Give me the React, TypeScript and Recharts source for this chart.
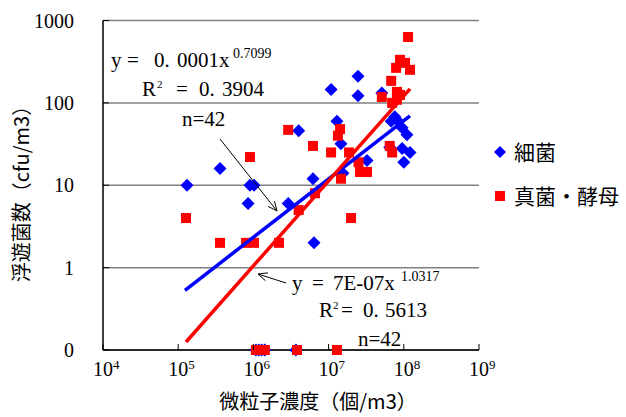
import React from 'react';
import { ScatterChart, Scatter, XAxis, YAxis, CartesianGrid } from 'recharts';

// ---- data ----
// 細菌 (bacteria): particle concentration (個/m3) vs airborne count (cfu/m3)
const bacteriaX = [
  1.31e5, 3.6e5, 8.5e5, 9.0e5, 1.02e6, 2.9e6, 4.0e6, 6.2e6, 6.4e6, 1.08e7,
  1.29e7, 1.46e7, 1.55e7, 2.46e7, 2.46e7, 3.24e7, 5.1e7, 7.6e7, 6.8e7, 8.4e7,
  9.5e7, 1.1e8, 6.5e7, 9.5e7, 1.21e8, 1.0e8,
  1.08e6, 1.18e6, 1.29e6, 1.42e6, 3.68e6,
];
const bacteriaY = [
  10, 16, 6, 10, 10, 6, 46, 12, 2, 145,
  60, 32, 14, 210, 122, 20, 132, 68, 60, 60,
  50, 41, 29, 28, 25, 19,
  0, 0, 0, 0, 0,
];
// 真菌・酵母 (fungi / yeast)
const fungiX = [
  1.27e5, 3.6e5, 8.0e5, 1.02e6, 2.19e6, 9.0e5, 2.9e6, 4.0e6, 6.6e6, 6.2e6,
  1.08e7, 1.42e7, 1.33e7, 1.87e7, 2.5e7, 2.62e7, 3.24e7, 1.46e7, 1.99e7,
  1.14e8, 8.9e7, 7.9e7, 1.04e8, 1.21e8, 6.8e7, 8.1e7, 5.1e7, 7.0e7, 8.1e7, 8.9e7,
  6.5e7, 7.0e7,
  1.08e6, 1.22e6, 1.42e6, 3.8e6, 1.29e7,
];
const fungiY = [
  4, 2, 2, 2, 2, 22, 47, 5, 8, 30,
  25, 48, 40, 25, 19, 14.5, 14.5, 12, 4,
  630, 333, 266, 306, 252, 185, 136, 118, 100, 109, 125,
  30, 25,
  0, 0, 0, 0, 0,
];
// power-law trend line end points (straight on log-log axes)
const bacteriaTrendX = [1.23e5, 1.21e8];
const bacteriaTrendY = [0.53, 69.5];
const fungiTrendX = [1.27e5, 1.21e8];
const fungiTrendY = [0.125, 148];

const xTicks = [1e4, 1e5, 1e6, 1e7, 1e8, 1e9];
const xTickExp = ['4', '5', '6', '7', '8', '9'];
const yTicks = [0.1, 1, 10, 100, 1000];
const yTickLabels = ['0', '1', '10', '100', '1000'];
const ZERO_FLOOR = 0.1; // zero counts are drawn on the "0" line

const seriesNames = ['細菌', '真菌・酵母'];
const BLUE = '#0000FF';
const RED = '#FF0000';
const SERIF = '"Liberation Serif", "DejaVu Serif", serif';
const CJK = '"Noto Sans CJK JP", "Noto Sans", sans-serif';

const zip = (xs: number[], ys: number[]) =>
  xs.map((x, i) => ({ x, y: ys[i] === 0 ? ZERO_FLOOR : ys[i] }));

const bacteria = zip(bacteriaX, bacteriaY);
const fungi = zip(fungiX, fungiY);
const bacteriaTrend = zip(bacteriaTrendX, bacteriaTrendY);
const fungiTrend = zip(fungiTrendX, fungiTrendY);

const Diamond = (p: any) => {
  const { cx, cy } = p;
  if (cx == null || cy == null) return <g />;
  const r = 6.5;
  return (
    <polygon
      points={`${cx},${cy - r} ${cx + r},${cy} ${cx},${cy + r} ${cx - r},${cy}`}
      fill={BLUE}
    />
  );
};
const Square = (p: any) => {
  const { cx, cy } = p;
  if (cx == null || cy == null) return <g />;
  return <rect x={cx - 5} y={cy - 5} width={10} height={10} fill={RED} />;
};
const NoShape = () => <g />;

const XTick = (p: any) => {
  const { x, y, payload } = p;
  const i = xTicks.indexOf(payload.value);
  return (
    <g>
      <line x1={x} x2={x} y1={y} y2={y - 6} stroke="#000" strokeWidth={1} />
      <text x={x} y={y + 26} textAnchor="middle" fontSize={20} fontFamily={SERIF} fill="#000">
        10
      </text>
      <text x={x + 10} y={y + 19} fontSize={13} fontFamily={SERIF} fill="#000">
        {xTickExp[i]}
      </text>
    </g>
  );
};
const YTick = (p: any) => {
  const { x, y, payload } = p;
  const i = yTicks.indexOf(payload.value);
  return (
    <g>
      <line x1={x} x2={x + 6} y1={y} y2={y} stroke="#000" strokeWidth={1} />
      <text x={74} y={y + 7} textAnchor="end" fontSize={20} fontFamily={SERIF} fill="#000">
        {yTickLabels[i]}
      </text>
    </g>
  );
};

function arrowHead(x1: number, y1: number, x2: number, y2: number, len = 10, ang = 0.42) {
  const a = Math.atan2(y2 - y1, x2 - x1);
  return `M${x2 - len * Math.cos(a - ang)},${y2 - len * Math.sin(a - ang)} L${x2},${y2} L${
    x2 - len * Math.cos(a + ang)
  },${y2 - len * Math.sin(a + ang)}`;
}

const Overlay = () => (
  <svg
    width={626}
    height={417}
    style={{ position: 'absolute', left: 0, top: 0, pointerEvents: 'none' }}
  >
    {/* bacteria equation */}
    <text fontFamily={SERIF} fontSize={21} fill="#000" y={67}>
      <tspan x={111}>y</tspan>
      <tspan x={127}>=</tspan>
      <tspan x={154}>0.</tspan>
      <tspan x={177}>0001x</tspan>
    </text>
    <text fontFamily={SERIF} fontSize={14} fill="#000" x={233} y={58}>0.7099</text>
    <text fontFamily={SERIF} fontSize={21} fill="#000" y={96}>
      <tspan x={142}>R</tspan>
      <tspan x={157} fontSize={11} dy={-8}>2</tspan>
      <tspan x={176} dy={8}>=</tspan>
      <tspan x={199}>0.</tspan>
      <tspan x={222}>3904</tspan>
    </text>
    <text fontFamily={SERIF} fontSize={21} fill="#000" x={182} y={126}>n=42</text>
    <line x1={220} y1={139} x2={277} y2={211} stroke="#000" strokeWidth={1} />
    <path d={arrowHead(220, 139, 277, 211)} stroke="#000" strokeWidth={1} fill="none" />

    {/* fungi equation */}
    <text fontFamily={SERIF} fontSize={21} fill="#000" y={290}>
      <tspan x={292}>y</tspan>
      <tspan x={312}>=</tspan>
      <tspan x={333}>7E-07x</tspan>
    </text>
    <text fontFamily={SERIF} fontSize={14} fill="#000" x={401} y={281}>1.0317</text>
    <text fontFamily={SERIF} fontSize={21} fill="#000" y={317}>
      <tspan x={319}>R</tspan>
      <tspan x={333} fontSize={11} dy={-8}>2</tspan>
      <tspan x={341} dy={8}>=</tspan>
      <tspan x={363}>0.</tspan>
      <tspan x={385}>5613</tspan>
    </text>
    <text fontFamily={SERIF} fontSize={21} fill="#000" x={358} y={346}>n=42</text>
    <line x1={286} y1={283} x2={258} y2={274} stroke="#000" strokeWidth={1} />
    <path d={arrowHead(286, 283, 258, 274)} stroke="#000" strokeWidth={1} fill="none" />

    {/* legend */}
    <polygon points="500,146 506,152 500,158 494,152" fill={BLUE} />
    <text x={514} y={160} fontFamily={CJK} fontSize={21} fill="#000">{seriesNames[0]}</text>
    <rect x={495} y={191} width={10} height={10} fill={RED} />
    <text x={514} y={204} fontFamily={CJK} fontSize={21} fill="#000">{seriesNames[1]}</text>

    {/* axis titles */}
    <text
      x={0}
      y={0}
      transform="translate(20,189) rotate(-90)"
      textAnchor="middle"
      dominantBaseline="central"
      fontFamily={CJK}
      fontSize={20}
      fill="#000"
    >
      浮遊菌数（cfu/m3）
    </text>
    <text x={318} y={409} textAnchor="middle" fontFamily={CJK} fontSize={20} fill="#000">
      微粒子濃度（個/m3）
    </text>
  </svg>
);

export default function App() {
  return (
    <div
      style={{
        position: 'absolute',
        left: 0,
        top: 0,
        width: 626,
        height: 417,
        background: '#fff',
        fontFamily: SERIF,
      }}
    >
      <ScatterChart
        width={626}
        height={417}
        margin={{ top: 20.5, right: 147, bottom: 37, left: 0 }}
      >
        <CartesianGrid vertical={false} stroke="#808080" strokeWidth={1.5} />
        <XAxis
          type="number"
          dataKey="x"
          scale="log"
          domain={[1e4, 1e9]}
          ticks={xTicks}
          height={30}
          tickSize={0}
          tickMargin={0}
          tickLine={false}
          axisLine={{ stroke: '#000', strokeWidth: 1.5 }}
          tick={<XTick />}
          interval={0}
        />
        <YAxis
          type="number"
          dataKey="y"
          scale="log"
          domain={[0.1, 1000]}
          ticks={yTicks}
          width={103}
          tickSize={0}
          tickMargin={0}
          tickLine={false}
          axisLine={{ stroke: '#000', strokeWidth: 1.5 }}
          tick={<YTick />}
          interval={0}
        />
        <Scatter name={seriesNames[0]} data={bacteria} shape={<Diamond />} isAnimationActive={false} />
        <Scatter name={seriesNames[1]} data={fungi} shape={<Square />} isAnimationActive={false} />
        <Scatter
          data={bacteriaTrend}
          shape={<NoShape />}
          line={{ stroke: BLUE, strokeWidth: 3.5 }}
          isAnimationActive={false}
        />
        <Scatter
          data={fungiTrend}
          shape={<NoShape />}
          line={{ stroke: RED, strokeWidth: 3.5 }}
          isAnimationActive={false}
        />
      </ScatterChart>
      <Overlay />
    </div>
  );
}
